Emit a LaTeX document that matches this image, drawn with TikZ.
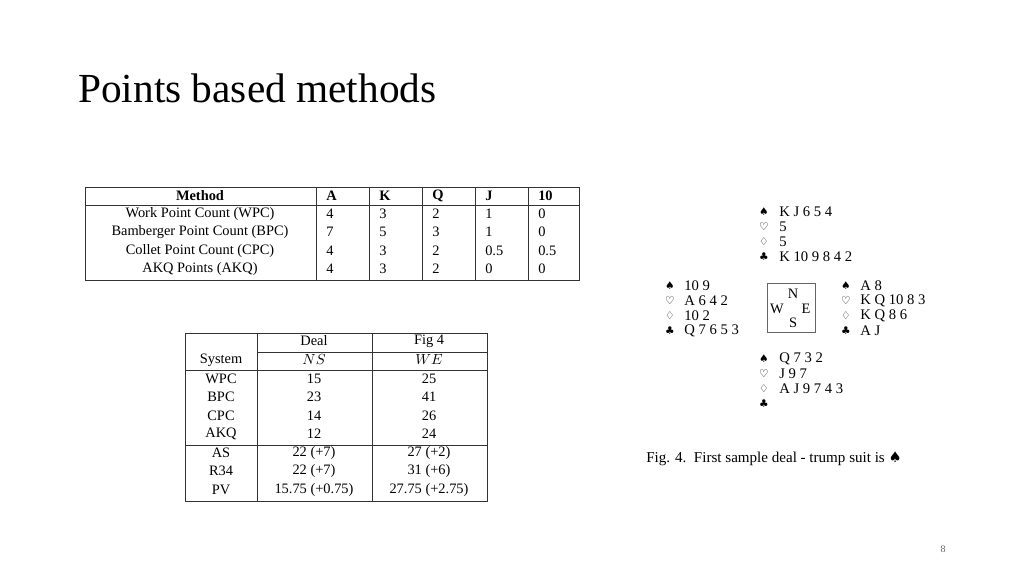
\documentclass[tikz,border=0pt]{standalone}
\usepackage{fontspec}
\setmainfont{Liberation Serif}
\newfontfamily\symf{DejaVu Sans}
\begin{document}
\begin{tikzpicture}[x=0.75pt,y=-0.75pt,
  tb/.style={font=\fontsize{10.8}{12}\selectfont,inner sep=0pt},
  tl/.style={tb,anchor=west},
  hd/.style={font=\fontsize{10.8}{12}\selectfont\bfseries,inner sep=0pt},
  hand/.style={font=\fontsize{11}{12}\selectfont,inner sep=0pt,anchor=west},
  suit/.style={font=\symf\fontsize{8}{9}\selectfont,inner sep=0pt},
  rule/.style={line width=0.6pt,black!80}]
\useasboundingbox (0,0) rectangle (1024,576);
\node[anchor=west,inner sep=0pt,font=\fontsize{31}{34}\selectfont] (title) at (78,88) {Points based methods};
% Table 1
\draw[rule] (85,187) rectangle (579,280);
\draw[rule] (85,205) -- (579,205);
\foreach \x in {316,369,422,475,528} \draw[rule] (\x,187) -- (\x,280);
\node[hd] (h0) at (200,196) {Method};
\foreach \x/\t [count=\i] in {326/A,379/K,432/Q,485/J,538/10} \node[hd,anchor=west] (h\i) at (\x,196) {\t};
\node[tb] (m1) at (200,214) {Work Point Count (WPC)};
\node[tb] (m2) at (200,232) {Bamberger Point Count (BPC)};
\node[tb] (m3) at (200,251) {Collet Point Count (CPC)};
\node[tb] (m4) at (200,269) {AKQ Points (AKQ)};
\foreach \y/\a/\b/\c/\d/\e [count=\r] in {214/4/3/2/1/0,232/7/5/3/1/0,251/4/3/2/0.5/0.5,269/4/3/2/0/0}{
  \node[tl] (r\r a) at (326,\y) {\a};
  \node[tl] (r\r b) at (379,\y) {\b};
  \node[tl] (r\r c) at (432,\y) {\c};
  \node[tl] (r\r d) at (485,\y) {\d};
  \node[tl] (r\r e) at (538,\y) {\e};
}
% Table 2
\draw[rule] (185,333) rectangle (487,501);
\draw[rule] (257,333) -- (257,501);
\draw[rule] (372,333) -- (372,501);
\draw[rule] (257,352) -- (487,352);
\draw[rule] (185,370) -- (487,370);
\draw[rule] (185,445) -- (487,445);
\node[tb] (d1) at (314,341) {Deal};
\node[tb] (d2) at (429,341) {Fig 4};
\node[tb] (s0) at (221,360) {System};
\node[tb] (s1) at (314,360) {$NS$};
\node[tb] (s2) at (429,360) {$WE$};
\foreach \y/\a/\b/\c [count=\r] in {379/WPC/15/25,397/BPC/23/41,416/CPC/14/26,434/AKQ/12/24,453/AS/22 (+7)/27 (+2),471/R34/22 (+7)/31 (+6),490/PV/15.75 (+0.75)/27.75 (+2.75)}{
  \node[tb] (t\r a) at (221,\y) {\a};
  \node[tb] (t\r b) at (314,\y) {\b};
  \node[tb] (t\r c) at (429,\y) {\c};
}
% Bridge deal
\draw[line width=0.5pt,black!60] (767,283) rectangle (815,332);
\node[tb] (cn) at (793,294) {N};
\node[tb] (cw) at (777,309) {W};
\node[tb] (ce) at (806,309) {E};
\node[tb] (cs) at (793,323) {S};
\def\hnd#1#2#3#4#5#6#7#8#9{%
  \node[suit] at (#2,#4) {♠}; \node[hand] (#1a) at (#3,#4) {#5};
  \node[suit] at (#2,#4+15) {♡}; \node[hand] (#1b) at (#3,#4+15) {#6};
  \node[suit] at (#2,#4+30) {♢}; \node[hand] (#1c) at (#3,#4+30) {#7};
  \node[suit] at (#2,#4+45) {♣}; \node[hand] (#1d) at (#3,#4+45) {#8};}
\hnd{hn}{764}{779}{212}{K J 6 5 4}{5}{5}{K 10 9 8 4 2}{}
\hnd{hw}{670}{684}{286}{10 9}{A 6 4 2}{10 2}{Q 7 6 5 3}{}
\hnd{he}{846}{860}{286}{A 8}{K Q 10 8 3}{K Q 8 6}{A J}{}
\hnd{hs}{764}{779}{359}{Q 7 3 2}{J 9 7}{A J 9 7 4 3}{\strut}{}
\node[anchor=west,inner sep=0pt,font=\fontsize{11.3}{12}\selectfont] (cap) at (646,459) {Fig. 4.\ \ First sample deal - trump suit is {\symf\fontsize{11}{12}\selectfont ♠}};
\node[inner sep=0pt,font=\fontsize{7.5}{9}\selectfont,text=black!60] (pg) at (943,549) {8};
\end{tikzpicture}
\end{document}
